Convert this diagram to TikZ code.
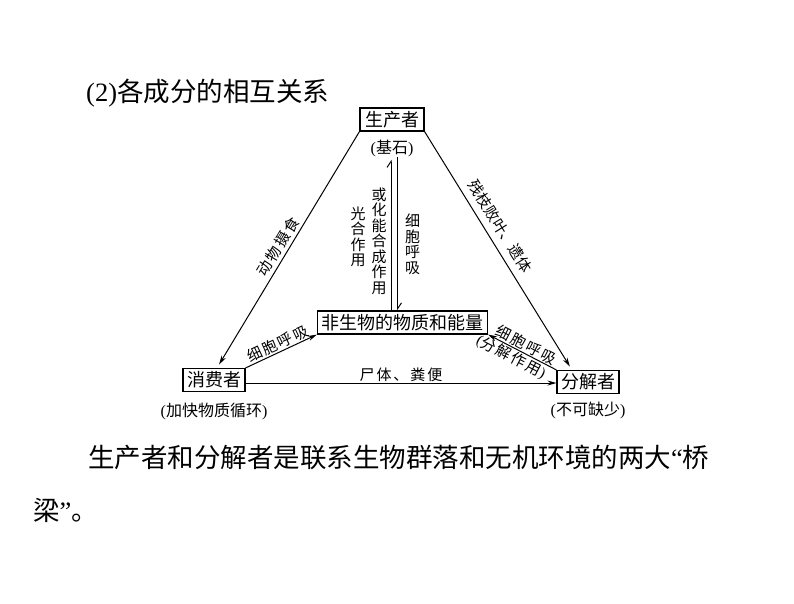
\documentclass[tikz,border=0pt]{standalone}
\usepackage{fontspec}
\setmainfont{Liberation Serif}
\newfontfamily\cjk{Noto Sans CJK SC}
\newfontfamily\cjkw[LetterSpace=13]{Noto Sans CJK SC}
\usetikzlibrary{arrows.meta,positioning}
\newcommand\zh[1]{{\cjk #1}}
\begin{document}
\begin{tikzpicture}[x=1pt, y=-1pt,
      box/.style={draw, line width=1.1pt, inner xsep=4pt, inner ysep=0pt, minimum height=23pt, font=\cjk\fontsize{18}{18}\selectfont},
      note/.style={inner sep=0pt, font=\fontsize{16}{16}\selectfont},
      lab/.style={inner sep=1pt, font=\cjk\fontsize{15}{15}\selectfont},
      wlab/.style={lab, font=\cjkw\fontsize{15}{15}\selectfont},
      vlab/.style={lab, align=center, font=\cjk\fontsize{15}{15.5}\selectfont},
      arr/.style={line width=1pt, -{Stealth[length=9pt, width=5pt]}},
      harp/.style={line width=1pt, -{Straight Barb[left, length=6pt, width=8pt]}},
      big/.style={anchor=west, inner sep=0pt, font=\fontsize{26.5}{26.5}\selectfont}]
   \useasboundingbox (0,0) rectangle (794,603);
   \node[big] (title) at (86,93) {(2)\zh{各成分的相互关系}};
   \node[box, inner xsep=5pt] (prod) at (392,119.5) {生产者};
   \node[box] (abio) at (402.5,322.5) {非生物的物质和能量};
   \node[box] (cons) at (214,380) {消费者};
   \node[box] (decom) at (588,382) {分解者};
   \node[note, below=8pt of prod] (prodnote) {(\zh{基石})};
   \node[note, below=11pt of cons] (consnote) {(\zh{加快物质循环})};
   \node[note, below=8pt of decom] (decomnote) {(\zh{不可缺少})};
   \coordinate (upx) at (391,0);
   \coordinate (dnx) at (397.5,0);
   \draw[arr, shorten >=4pt] (prod.south west) -- node[wlab, sloped, above=2pt, pos=.51] {动物摄食} ([xshift=3pt]cons.north);
   \draw[arr, shorten >=4pt] (prod.south east) -- node[lab, sloped, above=6pt, pos=.43] {残枝败叶、遗体} ([xshift=-16pt]decom.north);
   \draw[harp, shorten >=3pt] (abio.north -| upx) -- node[vlab, pos=.45, xshift=-12pt] {或\\化\\能\\合\\成\\作\\用} node[vlab, pos=.48, xshift=-33pt] {光\\合\\作\\用} (prodnote.south -| upx);
   \draw[harp] (prodnote.south -| dnx) -- node[vlab, pos=.57, xshift=15pt] {细\\胞\\呼\\吸} (abio.north -| dnx);
   \draw[arr] (cons.north east) -- node[wlab, sloped, above=0pt] {细胞呼吸} (abio.south west);
   \draw[arr] (decom.north west) -- node[wlab, sloped, above] {细胞呼吸} node[wlab, sloped, below, pos=.6, font=\fontsize{15}{15}\selectfont] {(\zh{\cjkw 分解作用})} (abio.south east);
   \draw[arr] ([yshift=-3pt]cons.east) -- node[wlab, above] {尸体、粪便} ([yshift=-3pt]cons.east -| decom.west);
   \node[big] (bridge) at (88,457) {\zh{生产者和分解者是联系生物群落和无机环境的两大}“\zh{桥}};
   \node[big] (bridgeend) at (33,510) {\zh{梁}”\zh{。}};
\end{tikzpicture}
\end{document}
